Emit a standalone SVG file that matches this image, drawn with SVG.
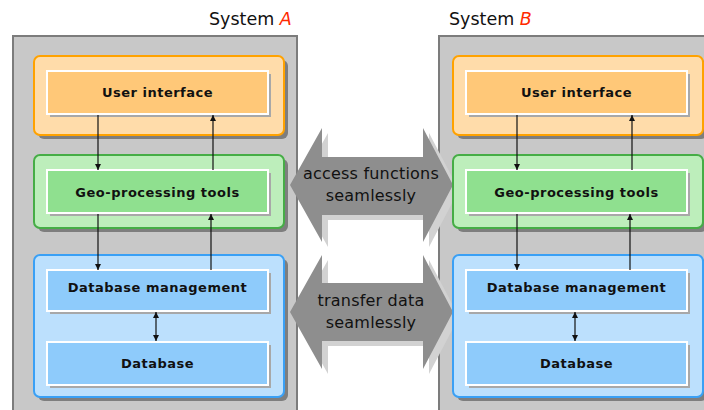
<svg xmlns="http://www.w3.org/2000/svg" width="704" height="410" viewBox="0 0 704 410">
<style>
.sys{fill:#c8c8c8;stroke:#7c7c7c;stroke-width:2}
.title{font-family:"DejaVu Sans",Verdana,sans-serif;font-size:17.5px;fill:#111}
.red{fill:#ff2a00;font-style:italic}
.oshadow{fill:#7e7e7e}
.ishadow{fill:#a8a8a8}
.oOut{fill:#ffdcaa;stroke:#ffa200;stroke-width:2}
.oIn{fill:#ffc878;stroke:#fff;stroke-width:2}
.gOut{fill:#bdeebb;stroke:#46ad46;stroke-width:2}
.gIn{fill:#8fe08f;stroke:#fff;stroke-width:2}
.bOut{fill:#bce0fd;stroke:#3aa0f5;stroke-width:2}
.bIn{fill:#8ecbfb;stroke:#fff;stroke-width:2}
.lbl{font-family:"DejaVu Sans",Verdana,sans-serif;font-size:13px;font-weight:bold;fill:#111;text-anchor:middle;letter-spacing:0.5px}
.big{fill:#8e8e8e}
.bigsh{fill:#d2d2d2}
.btxt{font-family:"DejaVu Sans",Verdana,sans-serif;font-size:16px;fill:#111;text-anchor:middle;letter-spacing:0.2px}
.con{stroke:#111;stroke-width:1.2;fill:none}
</style>
<defs>
<marker id="ah" markerUnits="userSpaceOnUse" markerWidth="6" markerHeight="6" refX="6" refY="3" orient="auto-start-reverse">
<path d="M0,0 L6,3 L0,6 z" fill="#111"/>
</marker>
</defs>

<g id="systemA">
<rect class="sys" x="13" y="36" width="284" height="390"/>
<text class="title" x="209" y="25">System <tspan class="red">A</tspan></text>
</g>
<g id="systemB">
<rect class="sys" x="439" y="36" width="290" height="390"/>
<text class="title" x="449" y="25">System <tspan class="red">B</tspan></text>
</g>

<g id="access-functions">
<polygon class="bigsh" points="296,190 328,133 328,162 429,162 429,133 459,190 429,247 429,220 328,220 328,247"/>
<polygon class="big" points="290,185 322,128 322,157 423,157 423,128 453,185 423,242 423,215 322,215 322,242"/>
<text class="btxt" x="371" y="179">access functions</text>
<text class="btxt" x="371" y="201">seamlessly</text>
</g>
<g id="transfer-data">
<polygon class="bigsh" points="296,317 328,260 328,288 429,288 429,260 459,317 429,374 429,346 328,346 328,374"/>
<polygon class="big" points="290,312 322,255 322,283 423,283 423,255 453,312 423,369 423,341 322,341 322,369"/>
<text class="btxt" x="371" y="306">transfer data</text>
<text class="btxt" x="371" y="328">seamlessly</text>
</g>

<g id="A-ui">
<rect class="oshadow" x="38" y="60" width="250" height="79" rx="6"/>
<rect class="oOut" x="34" y="56" width="250" height="79" rx="6"/>
<rect class="ishadow" x="50" y="74" width="221" height="43"/>
<rect class="oIn" x="47" y="71" width="221" height="43"/>
<text class="lbl" x="157.5" y="97">User interface</text>
</g>
<g id="A-geo">
<rect class="oshadow" x="38" y="159" width="250" height="73" rx="6"/>
<rect class="gOut" x="34" y="155" width="250" height="73" rx="6"/>
<rect class="ishadow" x="50" y="173" width="221" height="43"/>
<rect class="gIn" x="47" y="170" width="221" height="43"/>
<text class="lbl" x="157.5" y="197">Geo-processing tools</text>
</g>
<g id="A-data">
<rect class="oshadow" x="38" y="259" width="250" height="142" rx="6"/>
<rect class="bOut" x="34" y="255" width="250" height="142" rx="6"/>
</g>
<g id="A-dbm">
<rect class="ishadow" x="50" y="273" width="221" height="41"/>
<rect class="bIn" x="47" y="270" width="221" height="41"/>
<text class="lbl" x="157.5" y="292">Database management</text>
</g>
<g id="A-db">
<rect class="ishadow" x="50" y="345" width="221" height="43"/>
<rect class="bIn" x="47" y="342" width="221" height="43"/>
<text class="lbl" x="157.5" y="368">Database</text>
</g>

<g id="B-ui">
<rect class="oshadow" x="457" y="60" width="250" height="79" rx="6"/>
<rect class="oOut" x="453" y="56" width="250" height="79" rx="6"/>
<rect class="ishadow" x="469" y="74" width="221" height="43"/>
<rect class="oIn" x="466" y="71" width="221" height="43"/>
<text class="lbl" x="576.5" y="97">User interface</text>
</g>
<g id="B-geo">
<rect class="oshadow" x="457" y="159" width="250" height="73" rx="6"/>
<rect class="gOut" x="453" y="155" width="250" height="73" rx="6"/>
<rect class="ishadow" x="469" y="173" width="221" height="43"/>
<rect class="gIn" x="466" y="170" width="221" height="43"/>
<text class="lbl" x="576.5" y="197">Geo-processing tools</text>
</g>
<g id="B-data">
<rect class="oshadow" x="457" y="259" width="250" height="142" rx="6"/>
<rect class="bOut" x="453" y="255" width="250" height="142" rx="6"/>
</g>
<g id="B-dbm">
<rect class="ishadow" x="469" y="273" width="221" height="41"/>
<rect class="bIn" x="466" y="270" width="221" height="41"/>
<text class="lbl" x="576.5" y="292">Database management</text>
</g>
<g id="B-db">
<rect class="ishadow" x="469" y="345" width="221" height="43"/>
<rect class="bIn" x="466" y="342" width="221" height="43"/>
<text class="lbl" x="576.5" y="368">Database</text>
</g>

<g id="connectors">
<line class="con" x1="98" y1="115" x2="98" y2="170" marker-end="url(#ah)"/>
<line class="con" x1="213" y1="170" x2="213" y2="115" marker-end="url(#ah)"/>
<line class="con" x1="98" y1="214" x2="98" y2="270" marker-end="url(#ah)"/>
<line class="con" x1="211" y1="270" x2="211" y2="214" marker-end="url(#ah)"/>
<line class="con" x1="156" y1="312" x2="156" y2="341" marker-start="url(#ah)" marker-end="url(#ah)"/>
<line class="con" x1="517" y1="115" x2="517" y2="170" marker-end="url(#ah)"/>
<line class="con" x1="632" y1="170" x2="632" y2="115" marker-end="url(#ah)"/>
<line class="con" x1="517" y1="214" x2="517" y2="270" marker-end="url(#ah)"/>
<line class="con" x1="630" y1="270" x2="630" y2="214" marker-end="url(#ah)"/>
<line class="con" x1="575" y1="312" x2="575" y2="341" marker-start="url(#ah)" marker-end="url(#ah)"/>
</g>
</svg>
